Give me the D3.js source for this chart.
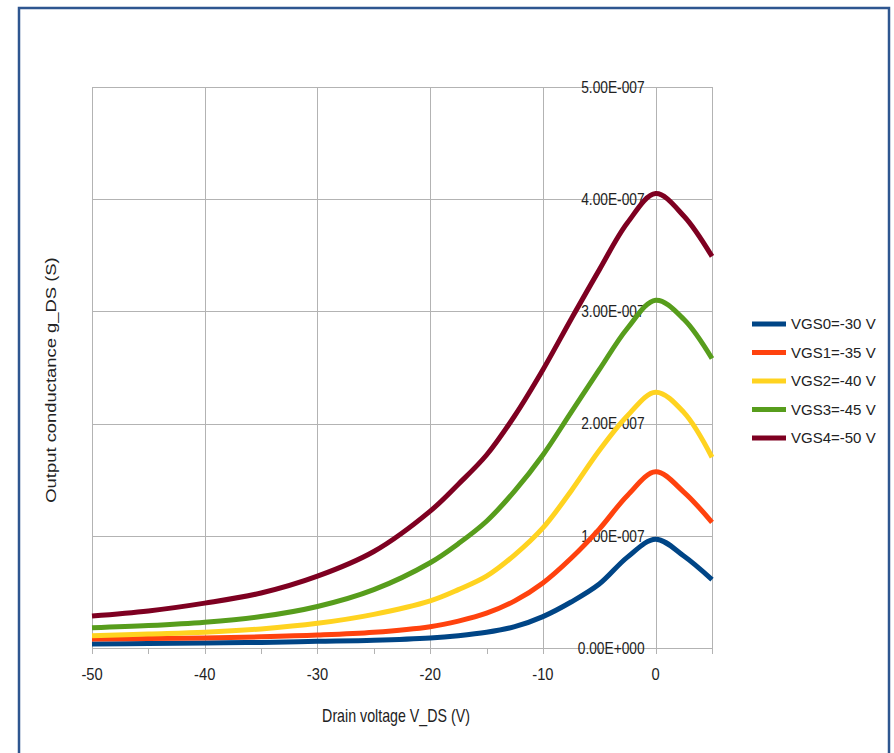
<!DOCTYPE html>
<html>
<head>
<meta charset="utf-8">
<script src="https://cdn.jsdelivr.net/npm/d3@7/dist/d3.min.js"></script>
<style>
  html, body { margin: 0; padding: 0; background: #fff; }
  svg { display: block; }
  text { font-family: "Liberation Sans", Arial, sans-serif; fill: #222; }
</style>
</head>
<body>
<svg id="chart" width="894" height="753"></svg>
<script>
// ---- data ----
const vds = [-50, -45, -40, -35, -30, -25, -20, -17.5, -15, -12.5, -10, -7.5, -5, -2.5, 0, 2.5, 5];
const seriesNames = ["VGS0=-30 V", "VGS1=-35 V", "VGS2=-40 V", "VGS3=-45 V", "VGS4=-50 V"];
const seriesColors = ["#004586", "#ff420e", "#ffd320", "#579d1c", "#7e0021"];
// values in units of 1e-7 S
const vgs0 = [0.035, 0.04, 0.045, 0.05, 0.06, 0.07, 0.09, 0.11, 0.14, 0.19, 0.28, 0.41, 0.57, 0.81, 0.97, 0.82, 0.61];
const vgs1 = [0.08, 0.085, 0.09, 0.10, 0.115, 0.14, 0.19, 0.24, 0.31, 0.42, 0.58, 0.80, 1.06, 1.36, 1.57, 1.39, 1.12];
const vgs2 = [0.11, 0.125, 0.14, 0.17, 0.22, 0.30, 0.42, 0.52, 0.64, 0.83, 1.07, 1.40, 1.76, 2.07, 2.28, 2.10, 1.70];
const vgs3 = [0.18, 0.20, 0.23, 0.28, 0.37, 0.52, 0.76, 0.93, 1.13, 1.40, 1.72, 2.10, 2.48, 2.85, 3.10, 2.93, 2.58];
const vgs4 = [0.285, 0.33, 0.40, 0.49, 0.64, 0.86, 1.22, 1.46, 1.72, 2.07, 2.48, 2.93, 3.37, 3.79, 4.05, 3.85, 3.49];
const seriesValues = [vgs0, vgs1, vgs2, vgs3, vgs4];

const xTicks = [-50, -40, -30, -20, -10, 0];
const xTickLabels = ["-50", "-40", "-30", "-20", "-10", "0"];
const xMinorTicks = [-45, -35, -25, -15, -5, 5];
const yTicks = [0, 1e-7, 2e-7, 3e-7, 4e-7, 5e-7];
const yTickLabels = ["0.00E+000", "1.00E-007", "2.00E-007", "3.00E-007", "4.00E-007", "5.00E-007"];
const xTitle = "Drain voltage V_DS (V)";
const yTitle = "Output conductance g_DS (S)";

// ---- layout ----
const svg = d3.select("#chart");
const x = d3.scaleLinear().domain([-50, 5]).range([92, 712]);
const y = d3.scaleLinear().domain([0, 5e-7]).range([648, 87]);

// outer frame
svg.append("rect")
  .attr("x", 19).attr("y", 8).attr("width", 870).attr("height", 800)
  .attr("fill", "#fff").attr("stroke", "#2e5690").attr("stroke-width", 2.5);

const grid = svg.append("g").attr("stroke", "#b3b3b3").attr("stroke-width", 1).attr("shape-rendering", "crispEdges");
grid.selectAll("line.h").data(yTicks).join("line")
  .attr("x1", x(-50)).attr("x2", x(5))
  .attr("y1", d => Math.round(y(d)) + 0.5).attr("y2", d => Math.round(y(d)) + 0.5);
grid.selectAll("line.v").data(xTicks.concat([5])).join("line")
  .attr("x1", d => Math.round(x(d)) + 0.5).attr("x2", d => Math.round(x(d)) + 0.5)
  .attr("y1", y(5e-7)).attr("y2", y(0) + 6);
grid.selectAll("line.m").data(xMinorTicks).join("line")
  .attr("x1", d => Math.round(x(d)) + 0.5).attr("x2", d => Math.round(x(d)) + 0.5)
  .attr("y1", y(0)).attr("y2", y(0) + 6);

// x tick labels
svg.append("g").selectAll("text").data(xTicks).join("text")
  .attr("transform", d => `translate(${x(d)},680) scale(0.92,1)`)
  .attr("text-anchor", "middle").attr("font-size", 16)
  .text((d, i) => xTickLabels[i]);

// y tick labels (at x = 0 axis)
svg.append("g").selectAll("text").data(yTicks).join("text")
  .attr("transform", d => `translate(${x(0) - 11},${y(d)}) scale(0.86,1)`)
  .attr("dy", "0.36em")
  .attr("text-anchor", "end").attr("font-size", 16)
  .text((d, i) => yTickLabels[i]);

// axis titles
svg.append("text")
  .attr("transform", "translate(396,722) scale(0.79,1)")
  .attr("text-anchor", "middle").attr("font-size", 18)
  .text(xTitle);
svg.append("text")
  .attr("transform", "translate(56,380) rotate(-90) scale(1,0.79)")
  .attr("text-anchor", "middle").attr("font-size", 18.4)
  .text(yTitle);

// lines
const line = d3.line()
  .x(d => x(d[0]))
  .y(d => y(d[1] * 1e-7))
  .curve(d3.curveCatmullRom.alpha(0.5));

svg.append("g").selectAll("path").data(seriesValues).join("path")
  .attr("d", vals => line(vds.map((v, i) => [v, vals[i]])))
  .attr("fill", "none")
  .attr("stroke", (d, i) => seriesColors[i])
  .attr("stroke-width", 5)
  .attr("stroke-linejoin", "round");

// legend
const leg = svg.append("g");
seriesNames.forEach((name, i) => {
  const ly = 324 + i * 28.5;
  leg.append("line")
    .attr("x1", 752).attr("x2", 786).attr("y1", ly).attr("y2", ly)
    .attr("stroke", seriesColors[i]).attr("stroke-width", 5);
  leg.append("text")
    .attr("x", 791).attr("y", ly).attr("dy", "0.36em")
    .attr("font-size", 15)
    .text(name);
});
</script>
</body>
</html>
